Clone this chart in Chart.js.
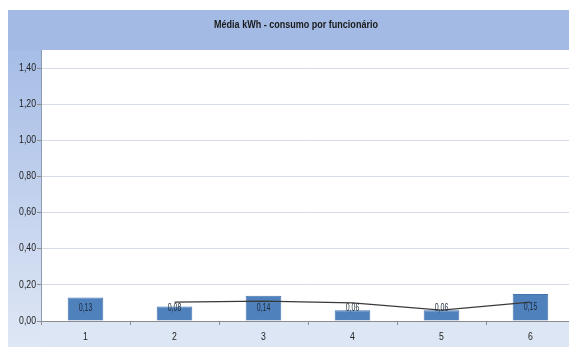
<!DOCTYPE html>
<html>
<head>
<meta charset="utf-8">
<script src="https://cdn.jsdelivr.net/npm/chart.js@4/dist/chart.umd.min.js"></script>
<style>
  html, body { margin: 0; padding: 0; background: #ffffff; overflow: hidden; }
  #wrap { width: 575px; height: 347px; }
</style>
</head>
<body>
<div id="wrap"><canvas id="c" width="575" height="347"></canvas></div>
<script>
const categories = ['1', '2', '3', '4', '5', '6'];
const consumo = [0.13, 0.08, 0.14, 0.06, 0.06, 0.15];
const mediaMovel = [null, 0.105, 0.11, 0.10, 0.06, 0.105];
const yTicks = [0, 0.2, 0.4, 0.6, 0.8, 1.0, 1.2, 1.4];
const titulo = 'Média kWh - consumo por funcionário';

const FONT = "'Liberation Sans', Arial, sans-serif";
const fmt = v => v.toFixed(2).replace('.', ',');

// Narrow text: regular glyphs squeezed horizontally
function narrowText(ctx, text, x, y, squeeze, align) {
  ctx.save();
  ctx.translate(x, y);
  ctx.scale(squeeze, 1);
  ctx.textAlign = align;
  ctx.textBaseline = 'middle';
  ctx.fillText(text, 0, 0);
  ctx.restore();
}

// Blue frame: title band, value-axis band and category-axis band
const framePlugin = {
  id: 'frame',
  beforeDraw(chart) {
    const { ctx, chartArea: a, width, height } = chart;
    ctx.save();
    ctx.fillStyle = '#a3bbe4';
    ctx.fillRect(8, 10, width - 8, a.top - 10);
    const g = ctx.createLinearGradient(0, a.top, 0, height);
    g.addColorStop(0, '#a6bde6');
    g.addColorStop(1, '#dfe7f5');
    ctx.fillStyle = g;
    ctx.fillRect(8, a.top, a.left - 8, height - a.top);
    ctx.fillStyle = '#dde6f4';
    ctx.fillRect(a.left, a.bottom, width - a.left, height - a.bottom);
    ctx.fillStyle = '#ffffff';
    ctx.fillRect(a.left, a.top, a.right - a.left, a.bottom - a.top);
    ctx.restore();
  },
  afterDraw(chart) {
    const { ctx, chartArea: a } = chart;
    ctx.save();
    ctx.fillStyle = '#1a1a1a';
    ctx.font = 'bold 11px ' + FONT;
    narrowText(ctx, titulo, 296, (10 + a.top) / 2 - 5, 0.82, 'center');

    // axis labels from the scales' own ticks
    ctx.font = '10px ' + FONT;
    ctx.fillStyle = '#222222';
    const ys = chart.scales.y;
    ys.ticks.forEach(t => {
      narrowText(ctx, fmt(t.value), a.left - 5, ys.getPixelForValue(t.value), 0.87, 'right');
    });
    const xs = chart.scales.x;
    categories.forEach((c, i) => {
      narrowText(ctx, c, xs.getPixelForValue(i), a.bottom + 16, 0.87, 'center');
    });
    ctx.restore();
  }
};

// Value labels on the bars
const labelPlugin = {
  id: 'barLabels',
  afterDatasetsDraw(chart) {
    const { ctx } = chart;
    const meta = chart.getDatasetMeta(1);
    const y = chart.scales.y;
    const cap = y.getPixelForValue(0.072);
    ctx.save();
    ctx.font = '10px ' + FONT;
    ctx.fillStyle = '#1e2a3a';
    meta.data.forEach((bar, i) => {
      const mid = (bar.y + bar.base) / 2;
      narrowText(ctx, fmt(consumo[i]), bar.x, Math.min(mid, cap), 0.7, 'center');
    });
    ctx.restore();
  }
};

new Chart(document.getElementById('c'), {
  data: {
    labels: categories,
    datasets: [
      {
        type: 'line',
        data: mediaMovel,
        borderColor: '#3a3a3a',
        borderWidth: 1.2,
        pointRadius: 0,
        tension: 0,
        spanGaps: false,
        order: 0
      },
      {
        type: 'bar',
        data: consumo,
        backgroundColor: '#4f81bd',
        borderColor: '#4474ae',
        borderWidth: 1,
        categoryPercentage: 1,
        barPercentage: 0.4,
        order: 1
      }
    ]
  },
  options: {
    responsive: false,
    animation: false,
    layout: { padding: { left: 8, right: 0, top: 50, bottom: 0 } },
    plugins: {
      legend: { display: false },
      tooltip: { enabled: false },
      title: { display: false }
    },
    scales: {
      x: {
        offset: true,
        grid: {
          offset: true,
          drawOnChartArea: false,
          drawTicks: true,
          tickLength: 4,
          color: '#8c8c8c'
        },
        border: { display: true, color: '#8c8c8c', width: 1 },
        ticks: { display: false },
        afterFit(s) { s.height = 26; }
      },
      y: {
        min: 0,
        max: 1.5,
        afterBuildTicks(s) { s.ticks = yTicks.map(v => ({ value: v })); },
        grid: {
          color: '#d5dce6',
          tickLength: 4,
          tickColor: '#8c8c8c'
        },
        border: { display: true, color: '#8c9bb0', width: 1 },
        ticks: { display: false },
        afterFit(s) { s.width = 33; }
      }
    }
  },
  plugins: [framePlugin, labelPlugin]
});
</script>
</body>
</html>
